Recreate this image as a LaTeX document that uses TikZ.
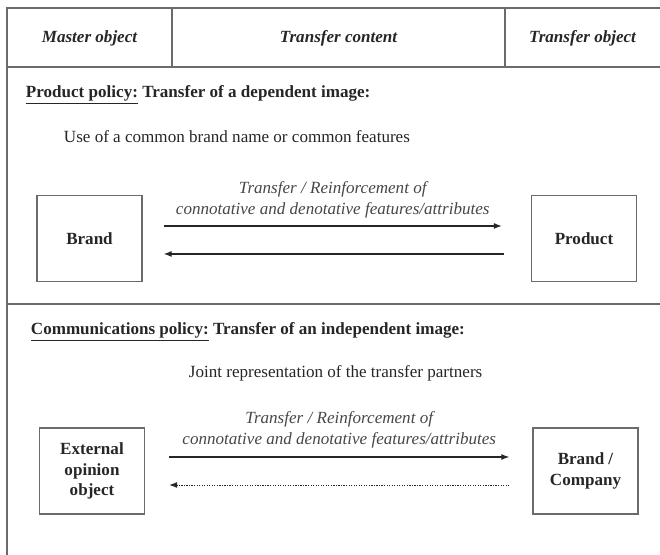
\documentclass[tikz,border=0pt]{standalone}
\usepackage{fontspec}
\setmainfont{Liberation Serif}
\usepackage{xcolor}
\usetikzlibrary{arrows.meta}
\definecolor{framegray}{gray}{0.42}
\definecolor{inkgray}{gray}{0.15}

\begin{document}
\fontsize{12.8}{15.6}\selectfont
\begin{tikzpicture}[x=0.75pt,y=-0.75pt,
  frame/.style={draw=framegray,line width=1.2pt},
  headtext/.style={font=\bfseries\itshape,text=inkgray},
  plaintext/.style={anchor=west,text=inkgray},
  objbox/.style={draw=framegray,line width=1pt,minimum width=78.75pt,minimum height=64.5pt,align=center,font=\bfseries,text=inkgray},
  lbl/.style={font=\itshape,align=center,text=inkgray!85},
  arr/.style={-{Latex[length=6pt,width=4.5pt]},line width=0.9pt,draw=inkgray}]

\useasboundingbox (0,0) rectangle (660,555);

% table frame
\draw [frame] (660,8) -- (7,8) -- (7,555);
\draw [frame] (7,67) -- (660,67);
\draw [frame] (172,8) -- (172,67);
\draw [frame] (505,8) -- (505,67);
\draw [frame] (7,304) -- (660,304);

% header row
\node [headtext] (hmaster) at (89.5,38) {Master object};
\node [headtext] (hcontent) at (338.5,38) {Transfer content};
\node [headtext] (hobject) at (582.5,38) {Transfer object};

% product policy
\node [plaintext,font=\bfseries] (prodhead) at (20,95) {\underline{Product policy:} Transfer of a dependent image:};
\node [plaintext] (produse) at (58,137) {Use of a common brand name or common features};
%
\node [objbox] (brand) at (89.5,238.5) {Brand};
\node [objbox] (product) at (584,238.5) {Product};
\draw [arr] ([xshift=15.75pt,yshift=9.4pt]brand.east) -- ([xshift=-21.75pt,yshift=9.4pt]product.west)
  node [midway,above=1pt,lbl] (prodlbl) {Transfer / Reinforcement of\\ connotative and denotative features/attributes};
\draw [arr] ([xshift=-20.25pt,yshift=-11.6pt]product.west) -- ([xshift=15.75pt,yshift=-11.6pt]brand.east);

% communications policy
\node [plaintext,font=\bfseries] (commhead) at (25,332) {\underline{Communications policy:} Transfer of an independent image:};
\node [plaintext] (commjoint) at (183,373) {Joint representation of the transfer partners};
%
\node [objbox] (external) at (92,471) {External\\ opinion\\ object};
\node [objbox] (company) at (585.5,471) {Brand /\\ Company};
\draw [arr] ([xshift=18pt,yshift=10.5pt]external.east) -- ([xshift=-17.25pt,yshift=10.5pt]company.west)
  node [midway,above=2pt,lbl] (commlbl) {Transfer / Reinforcement of\\ connotative and denotative features/attributes};
\draw [arr,densely dotted,line width=0.7pt] ([xshift=-17.25pt,yshift=-10.5pt]company.west) -- ([xshift=18pt,yshift=-10.5pt]external.east);

\end{tikzpicture}
\end{document}
